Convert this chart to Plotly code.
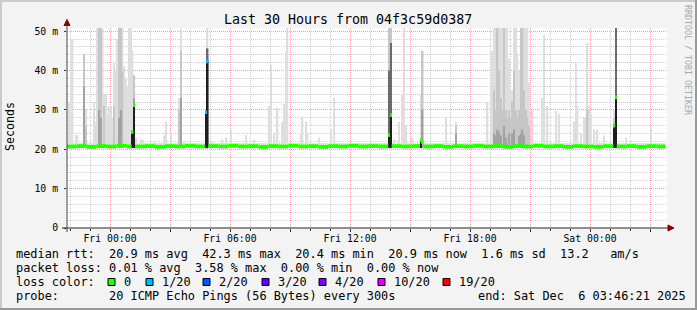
import pandas as pd
import plotly.graph_objects as go

# ---------------- data (minutes relative to Fri 2025-12-05 00:00) ----------------
T0 = pd.Timestamp("2025-12-05 00:00")
BIN = 5            # step of the probe in minutes
END_MIN = 1666     # last data point (Sat 03:46)

# smoke (ping spread) per 5-min bin: bin start and max ping (ms)
smoke_min = [-125, -115, -105, -100, -80, -75, -50, -45, -40, -35,
             -30, -25, -20, -15, -10, -5, 0, 5, 10, 15,
             20, 25, 30, 35, 40, 45, 50, 55, 60, 65,
             70, 75, 90, 95, 130, 160, 165, 180, 205, 210,
             220, 285, 290, 305, 335, 345, 360, 405, 430, 475,
             480, 490, 500, 515, 520, 525, 530, 570, 575, 585,
             590, 625, 660, 670, 835, 840, 850, 865, 875, 880,
             885, 905, 930, 935, 1005, 1035, 1130, 1140, 1145, 1150,
             1155, 1160, 1165, 1170, 1175, 1180, 1185, 1190, 1195, 1200,
             1205, 1210, 1215, 1220, 1225, 1230, 1235, 1240, 1245, 1250,
             1255, 1265, 1295, 1300, 1310, 1335, 1345, 1390, 1395, 1400,
             1410, 1420, 1425, 1430, 1435, 1440, 1450, 1460, 1480, 1510,
             1515, 1545, 1620]
smoke_max = [31.7, 48.0, 23.6, 23.6, 44.3, 30.0, 32.0, 27.0, 51.0, 51.0,
             51.0, 51.0, 34.0, 33.8, 29.0, 31.0, 31.0, 28.0, 42.0, 40.0,
             48.0, 51.0, 51.0, 51.0, 41.0, 38.0, 36.0, 51.0, 51.0, 45.0,
             38.8, 23.0, 22.5, 22.5, 22.0, 23.5, 27.0, 24.0, 33.0, 50.5,
             22.0, 30.0, 51.0, 22.0, 22.5, 23.0, 25.0, 23.6, 22.5, 31.0,
             41.4, 24.0, 30.5, 27.0, 31.5, 44.7, 51.0, 24.0, 28.0, 27.0,
             24.0, 23.0, 25.0, 33.0, 51.0, 51.0, 22.5, 27.0, 33.8, 51.0,
             26.0, 23.0, 34.0, 45.0, 28.0, 27.0, 32.0, 37.0, 45.0, 51.0,
             51.0, 51.0, 51.0, 51.0, 51.0, 51.0, 51.0, 51.0, 43.0, 35.0,
             35.0, 51.0, 51.0, 44.0, 40.0, 51.0, 51.0, 51.0, 51.0, 51.0,
             37.0, 30.0, 33.0, 49.0, 31.0, 29.7, 29.0, 27.0, 42.0, 31.0,
             24.0, 28.0, 28.0, 47.0, 31.0, 29.0, 25.0, 25.0, 23.5, 30.0,
             51.0, 23.0, 25.5]

# denser part of the smoke (upper quartile)
mid_min = [-80, -75, -35, -30, -20, 10, 25, 30, 35, 70,
           205, 210, 290, 835, 840, 935, 1035, 1150, 1155, 1160,
           1165, 1170, 1175, 1180, 1185, 1190, 1195, 1200, 1205, 1210,
           1215, 1220, 1225, 1230, 1235, 1240, 1245, 1250, 1255, 1430,
           1510, 1515]
mid_val = [44.0, 26.0, 51.0, 51.0, 31.0, 31.0, 51.0, 51.0, 40.0, 38.8,
           30.0, 45.0, 45.6, 51.0, 51.0, 45.0, 26.0, 35.0, 30.0, 51.0,
           40.0, 33.0, 30.0, 51.0, 30.0, 28.0, 30.0, 28.0, 32.0, 40.0,
           30.0, 28.0, 30.0, 51.0, 51.0, 35.0, 30.0, 28.0, 26.0, 30.0,
           28.0, 51.0]

# darker smoke (around the median)
dark_min = [-80, -35, -30, 25, 30, 70, 210, 290, 835, 840,
            935, 1035, 1150, 1155, 1160, 1165, 1170, 1180, 1185, 1195,
            1205, 1210, 1225, 1230, 1235, 1240, 1515]
dark_val = [36.0, 30.0, 28.0, 28.0, 30.0, 33.0, 33.0, 44.0, 32.0, 40.0,
            30.0, 24.0, 24.0, 23.5, 25.0, 24.5, 23.5, 26.0, 23.0, 24.0,
            24.0, 25.0, 23.5, 24.0, 25.0, 23.5, 45.0]

# darkest smoke (bins where a big share of pings is slow)
core_dark_min = [290, 835, 840, 1515]
core_dark_val = [45.6, 40.0, 47.0, 51.0]

# ping floor band (min ... typical spread around the median)
floor_lo = 20.2
floor_hi = 21.5

# median rtt: segment starts (minutes) and values (ms)
med_min = [-130, -100, -70, -40, -10, 20, 50, 65, 70, 75,
           105, 135, 165, 195, 225, 255, 285, 290, 295, 325,
           355, 385, 415, 445, 475, 505, 535, 565, 595, 625,
           655, 685, 715, 745, 775, 805, 835, 840, 845, 875,
           905, 930, 935, 940, 970, 1000, 1030, 1060, 1090, 1120,
           1150, 1180, 1210, 1240, 1270, 1300, 1330, 1360, 1390, 1420,
           1450, 1480, 1510, 1515, 1520, 1550, 1580, 1610, 1640]
med_val = [20.7, 20.8, 20.6, 20.8, 20.7, 20.9, 20.7, 24.4, 31.2, 20.7,
           20.8, 20.6, 20.8, 20.7, 20.9, 20.7, 29.4, 42.3, 20.8, 20.7,
           20.9, 20.7, 20.8, 20.6, 20.8, 20.7, 20.9, 20.7, 20.8, 20.6,
           20.8, 20.7, 20.9, 20.7, 20.8, 20.7, 23.6, 28.7, 20.8, 20.7,
           20.8, 22.3, 21.8, 20.7, 20.8, 20.6, 20.8, 20.7, 20.9, 20.7,
           20.8, 20.6, 20.8, 20.7, 20.9, 20.7, 20.8, 20.6, 20.8, 20.7,
           20.6, 20.8, 26.0, 33.2, 20.7, 20.8, 20.6, 20.8, 20.7]
# segments with packet loss (in lost pings out of 20)
loss_min = [285, 290]
loss_cnt = [1, 1]

loss_labels = ["0", "1/20", "2/20", "3/20", "4/20", "10/20", "19/20"]
loss_steps = [0, 1, 2, 3, 4, 10, 19]
loss_colors = ["#26ff00", "#00b8ff", "#0059ff", "#5e00ff", "#7e00ff", "#dd00ff", "#ff0000"]

x_tick_min = [0, 180, 360, 540, 720, 900, 1080, 1260, 1440, 1620]
x_tick_text = ["Fri 00:00", "", "Fri 06:00", "", "Fri 12:00", "", "Fri 18:00", "", "Sat 00:00", ""]
y_tick_vals = [0, 10, 20, 30, 40, 50]
y_tick_text = ["0", "10 m", "20 m", "30 m", "40 m", "50 m"]

title = "Last 30 Hours from 04f3c59d0387"
row_rtt = "median rtt:  20.9 ms avg  42.3 ms max  20.4 ms min  20.9 ms now  1.6 ms sd  13.2   am/s"
row_loss = "packet loss: 0.01 % avg  3.58 % max  0.00 % min  0.00 % now"
row_probe = "probe:       20 ICMP Echo Pings (56 Bytes) every 300s"
row_end = "end: Sat Dec  6 03:46:21 2025"

# ---------------- helpers ----------------
SMOKE_BASE = 20.3
FONT = "DejaVu Sans Mono"
L, R, T, B = 67, 30, 28, 82
W, H = 697, 310
PW, PH = W - L - R, H - T - B


def ts(m):
    return T0 + pd.Timedelta(minutes=m)


def px(x):
    return (x - L) / PW


def py(y):
    return (T + PH - y) / PH


def smoke_layer(mins, tops, color):
    return go.Bar(
        x=[ts(m + BIN / 2) for m in mins],
        y=[t - SMOKE_BASE for t in tops],
        base=SMOKE_BASE,
        width=BIN * 60000,
        marker=dict(color=color, line=dict(width=0)),
        hoverinfo="skip",
    )


fig = go.Figure()

# floor band as one wide bar (kept in the bar layer so the median stays on top)
fig.add_trace(go.Bar(
    x=[ts((med_min[0] + END_MIN) / 2)], y=[floor_hi - floor_lo], base=floor_lo,
    width=(END_MIN - med_min[0]) * 60000,
    marker=dict(color="#DADADA", line=dict(width=0)), hoverinfo="skip"))

fig.add_trace(smoke_layer(smoke_min, smoke_max, "#DEDEDE"))
fig.add_trace(smoke_layer(mid_min, mid_val, "#C6C6C6"))
fig.add_trace(smoke_layer(dark_min, dark_val, "#A2A2A2"))
fig.add_trace(smoke_layer(core_dark_min, core_dark_val, "#6A6A6A"))

# segments of median
seg_end = med_min[1:] + [END_MIN]
core_min = [m for m, e, v in zip(med_min, seg_end, med_val) if e - m == BIN and v > 22]
core_val = [v for m, e, v in zip(med_min, seg_end, med_val) if e - m == BIN and v > 22]
fig.add_trace(smoke_layer(core_min, core_val, "#1E1E1E"))

loss_map = dict(zip(loss_min, loss_cnt))


def loss_color(n):
    c = loss_colors[0]
    for step, col in zip(loss_steps, loss_colors):
        if n >= step:
            c = col
    return c


MED_H = 0.95
fig.add_trace(go.Bar(
    x=[ts((m + e) / 2) for m, e in zip(med_min, seg_end)],
    y=[MED_H] * len(med_min),
    base=[v - MED_H / 2 for v in med_val],
    width=[(e - m) * 60000 for m, e in zip(med_min, seg_end)],
    marker=dict(color=[loss_color(loss_map.get(m, 0)) for m in med_min], line=dict(width=0)),
    hoverinfo="skip",
))

grid_major = "#F2A0A0"
grid_minor = "#CFCFCF"

fig.update_layout(
    width=W, height=H,
    margin=dict(l=L, r=R, t=T, b=B, pad=0),
    paper_bgcolor="#F3F3F3", plot_bgcolor="#FFFFFF",
    showlegend=False, barmode="overlay", hovermode=False,
    font=dict(family=FONT, size=10, color="#000000"),
)
fig.update_xaxes(
    type="date", range=[ts(-129), ts(1671)],
    tickmode="array", tickvals=[ts(m) for m in x_tick_min], ticktext=x_tick_text,
    tickfont=dict(family=FONT, size=9.8, color="#000"),
    ticks="outside", ticklen=3, tickcolor="#333", tickwidth=1, ticklabelstandoff=-2,
    showgrid=True, gridcolor=grid_major, griddash="1px,1px", gridwidth=1,
    minor=dict(tickmode="linear", tick0=ts(0), dtick=3600000, showgrid=True,
               gridcolor=grid_minor, griddash="1px,1px", ticks="outside",
               ticklen=2, tickcolor="#333"),
    showline=False, zeroline=False, fixedrange=True,
)
fig.update_yaxes(
    range=[0, 50.8],
    tickmode="array", tickvals=y_tick_vals, ticktext=y_tick_text,
    tickfont=dict(family=FONT, size=9.8, color="#000"),
    ticks="outside", ticklen=2, tickcolor="#333", ticklabelstandoff=4,
    showgrid=True, gridcolor=grid_major, griddash="1px,1px", gridwidth=1,
    minor=dict(tickmode="linear", tick0=0, dtick=2, showgrid=True,
               gridcolor=grid_minor, griddash="1px,1px"),
    showline=False, zeroline=False, fixedrange=True,
)

shapes = []
# outer 3D frame
shapes.append(dict(type="line", xref="paper", yref="paper", x0=px(0), x1=px(W), y0=py(1), y1=py(1),
                   line=dict(color="#CBCBCB", width=2)))
shapes.append(dict(type="line", xref="paper", yref="paper", x0=px(1), x1=px(1), y0=py(0), y1=py(H),
                   line=dict(color="#CBCBCB", width=2)))
shapes.append(dict(type="line", xref="paper", yref="paper", x0=px(0), x1=px(W), y0=py(H - 1), y1=py(H - 1),
                   line=dict(color="#999999", width=2)))
shapes.append(dict(type="line", xref="paper", yref="paper", x0=px(W - 1), x1=px(W - 1), y0=py(0), y1=py(H),
                   line=dict(color="#999999", width=2)))
# axes with arrows
shapes.append(dict(type="line", xref="paper", yref="paper", x0=px(62), x1=px(670), y0=0, y1=0,
                   line=dict(color="#222222", width=1)))
shapes.append(dict(type="line", xref="paper", yref="paper", x0=0, x1=0, y0=py(232), y1=py(24),
                   line=dict(color="#444444", width=1)))
shapes.append(dict(type="path", xref="paper", yref="paper",
                   path=f"M {px(668)},{py(225)} L {px(674)},{py(228)} L {px(668)},{py(231)} Z",
                   fillcolor="#8B0000", line=dict(color="#8B0000", width=1)))
shapes.append(dict(type="path", xref="paper", yref="paper",
                   path=f"M {px(64)},{py(25.5)} L {px(67)},{py(19.5)} L {px(70)},{py(25.5)} Z",
                   fillcolor="#8B0000", line=dict(color="#8B0000", width=1)))

box_x = [108, 146, 203, 262, 319, 378, 443]
for bx, col in zip(box_x, loss_colors):
    shapes.append(dict(type="rect", xref="paper", yref="paper",
                       x0=px(bx), x1=px(bx + 7), y0=py(285.5), y1=py(278.5),
                       fillcolor=col, line=dict(color="#000000", width=1)))
fig.update_layout(shapes=shapes)

LEG = 11.9
ann = []


def text(x, y, s, size=LEG, xanchor="left", angle=0, color="#000000"):
    ann.append(dict(x=px(x), y=py(y), xref="paper", yref="paper", text=s, showarrow=False,
                    xanchor=xanchor, yanchor="middle", textangle=angle,
                    font=dict(family=FONT, size=size, color=color), borderpad=0))


text(347.5, 19, title, size=13.3, xanchor="center")
text(10, 127, "Seconds", size=11.6, xanchor="center", angle=-90)
text(688, 60, "RRDTOOL / TOBI OETIKER", size=8.3, xanchor="center", angle=90, color="#A8A8A8")
text(15, 254, row_rtt.replace(" ", "&nbsp;"))
text(15, 268, row_loss.replace(" ", "&nbsp;"))
text(15, 282, "loss color:")
for bx, lab in zip(box_x, loss_labels):
    text(bx + 14.5, 282, lab)
text(15, 296, row_probe.replace(" ", "&nbsp;"))
text(477, 296, row_end.replace(" ", "&nbsp;"))
fig.update_layout(annotations=ann)

fig.write_html("out.html")
